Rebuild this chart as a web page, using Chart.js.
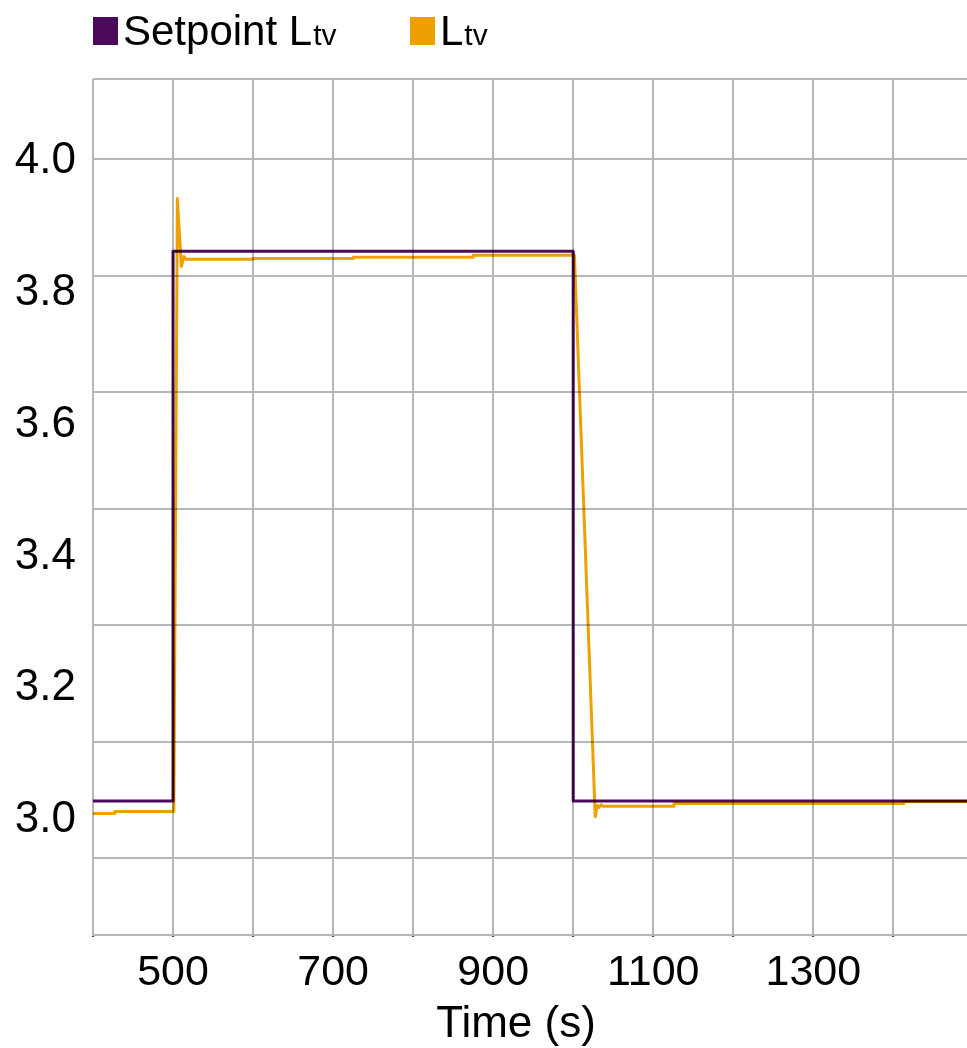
<!DOCTYPE html>
<html>
<head>
<meta charset="utf-8">
<script src="https://cdn.jsdelivr.net/npm/chart.js@4.4.1/dist/chart.umd.min.js"></script>
<style>
  html, body { margin: 0; padding: 0; background: #ffffff; }
  #wrap { position: relative; width: 967px; height: 1048px; }
</style>
</head>
<body>
<div id="wrap"><canvas id="chart"></canvas></div>
<script>
// Level setpoint (step changes at t = 500 s and t = 1000 s)
const setpointTime  = [400, 500, 500, 1000, 1000, 1492];
const setpointLevel = [3.029, 3.029, 3.863, 3.863, 3.029, 3.029];

// Measured level L_tv
const ltvTime  = [400, 427, 427, 501, 505.4, 510.4, 513.7, 516, 600, 600, 725, 725, 875, 875,
                  1001.5, 1027.5, 1030, 1032, 1035, 1037, 1126, 1126, 1413, 1413, 1492];
const ltvLevel = [3.010, 3.010, 3.013, 3.013, 3.943, 3.840, 3.855, 3.851, 3.851, 3.852, 3.852, 3.854, 3.854, 3.857,
                  3.857, 3.005, 3.022, 3.019, 3.023, 3.021, 3.021, 3.025, 3.025, 3.028, 3.028];

// Axis ticks
const timeGrid   = [400, 500, 600, 700, 800, 900, 1000, 1100, 1200, 1300, 1400];
const timeLabels = [500, 700, 900, 1100, 1300];
const levelTicks = [3.0, 3.2, 3.4, 3.6, 3.8, 4.0];

// Legend entries: main text + smaller suffix
const seriesNames    = ['Setpoint L', 'L'];
const seriesSuffixes = ['tv', 'tv'];
const seriesColors   = ['#4b0a5c', '#eea000'];

const FONT = "'Liberation Sans', Arial, sans-serif";
const GRID = '#b4b8bb';

const toPoints = (xs, ys) => xs.map((x, i) => ({ x: x, y: ys[i] }));

// Lines are blended multiplicatively, so where they overlap they darken
const multiplyLines = {
  id: 'multiplyLines',
  beforeDatasetsDraw(chart) { chart.ctx.save(); chart.ctx.globalCompositeOperation = 'multiply'; },
  afterDatasetsDraw(chart) { chart.ctx.restore(); }
};

// Legend with subscript-sized suffix, plus the time-axis title
const legendAndTitle = {
  id: 'legendAndTitle',
  afterDraw(chart) {
    const ctx = chart.ctx;
    ctx.save();
    const starts = [93, 410];
    chart.data.datasets.forEach((ds, i) => {
      const x0 = starts[i];
      ctx.fillStyle = seriesColors[i];
      ctx.fillRect(x0, 17, 25, 28);
      ctx.fillStyle = '#000';
      ctx.textBaseline = 'alphabetic';
      ctx.textAlign = 'left';
      ctx.font = '42px ' + FONT;
      const tx = x0 + 30;
      ctx.fillText(seriesNames[i], tx, 45);
      const w = ctx.measureText(seriesNames[i]).width;
      ctx.font = '30px ' + FONT;
      ctx.fillText(seriesSuffixes[i], tx + w + 1, 45);
    });
    ctx.font = '44px ' + FONT;
    ctx.textAlign = 'center';
    ctx.fillStyle = '#000';
    ctx.fillText('Time (s)', 516, 1037);
    ctx.restore();
  }
};

new Chart(document.getElementById('chart'), {
  type: 'line',
  data: {
    datasets: [
      {
        label: 'Setpoint Ltv',
        data: toPoints(setpointTime, setpointLevel),
        borderColor: seriesColors[0],
        borderWidth: 3,
        borderJoinStyle: 'round',
        pointRadius: 0,
        tension: 0,
        yAxisID: 'y'
      },
      {
        label: 'Ltv',
        data: toPoints(ltvTime, ltvLevel),
        borderColor: seriesColors[1],
        borderWidth: 3,
        borderJoinStyle: 'round',
        pointRadius: 0,
        tension: 0,
        yAxisID: 'y'
      }
    ]
  },
  options: {
    responsive: true,
    maintainAspectRatio: false,
    animation: false,
    layout: { padding: { top: 79, left: 0, right: 0, bottom: 0 } },
    plugins: { legend: { display: false }, tooltip: { enabled: false } },
    scales: {
      x: {
        type: 'linear',
        min: 400,
        max: 1492,
        afterBuildTicks(scale) { scale.ticks = timeGrid.map(v => ({ value: v })); },
        afterFit(scale) { scale.height = 113; },
        ticks: {
          autoSkip: false,
          maxRotation: 0,
          padding: 10,
          color: '#000',
          font: { family: FONT, size: 43 },
          callback: v => (timeLabels.includes(v) ? String(v) : '')
        },
        grid: { color: GRID, lineWidth: 2, drawTicks: true, tickLength: 2, tickColor: '#444' },
        border: { display: true, color: GRID, width: 2 }
      },
      y: {
        type: 'linear',
        position: 'left',
        min: 2.8255,
        max: 4.1244,
        afterBuildTicks(scale) { scale.ticks = levelTicks.map(v => ({ value: v })); },
        afterFit(scale) { scale.width = 93; },
        ticks: {
          padding: 17,
          color: '#000',
          font: { family: FONT, size: 44 },
          callback: v => v.toFixed(1)
        },
        grid: { display: false, drawTicks: false },
        border: { display: false }
      },
      yGrid: {
        type: 'linear',
        position: 'right',
        min: -0.658,
        max: 6.69,
        afterBuildTicks(scale) { scale.ticks = [0, 1, 2, 3, 4, 5, 6, 6.69].map(v => ({ value: v })); },
        afterFit(scale) { scale.width = 0; },
        ticks: { display: false },
        grid: { color: GRID, lineWidth: 2, drawTicks: false },
        border: { display: false }
      }
    }
  },
  plugins: [multiplyLines, legendAndTitle]
});
</script>
</body>
</html>
